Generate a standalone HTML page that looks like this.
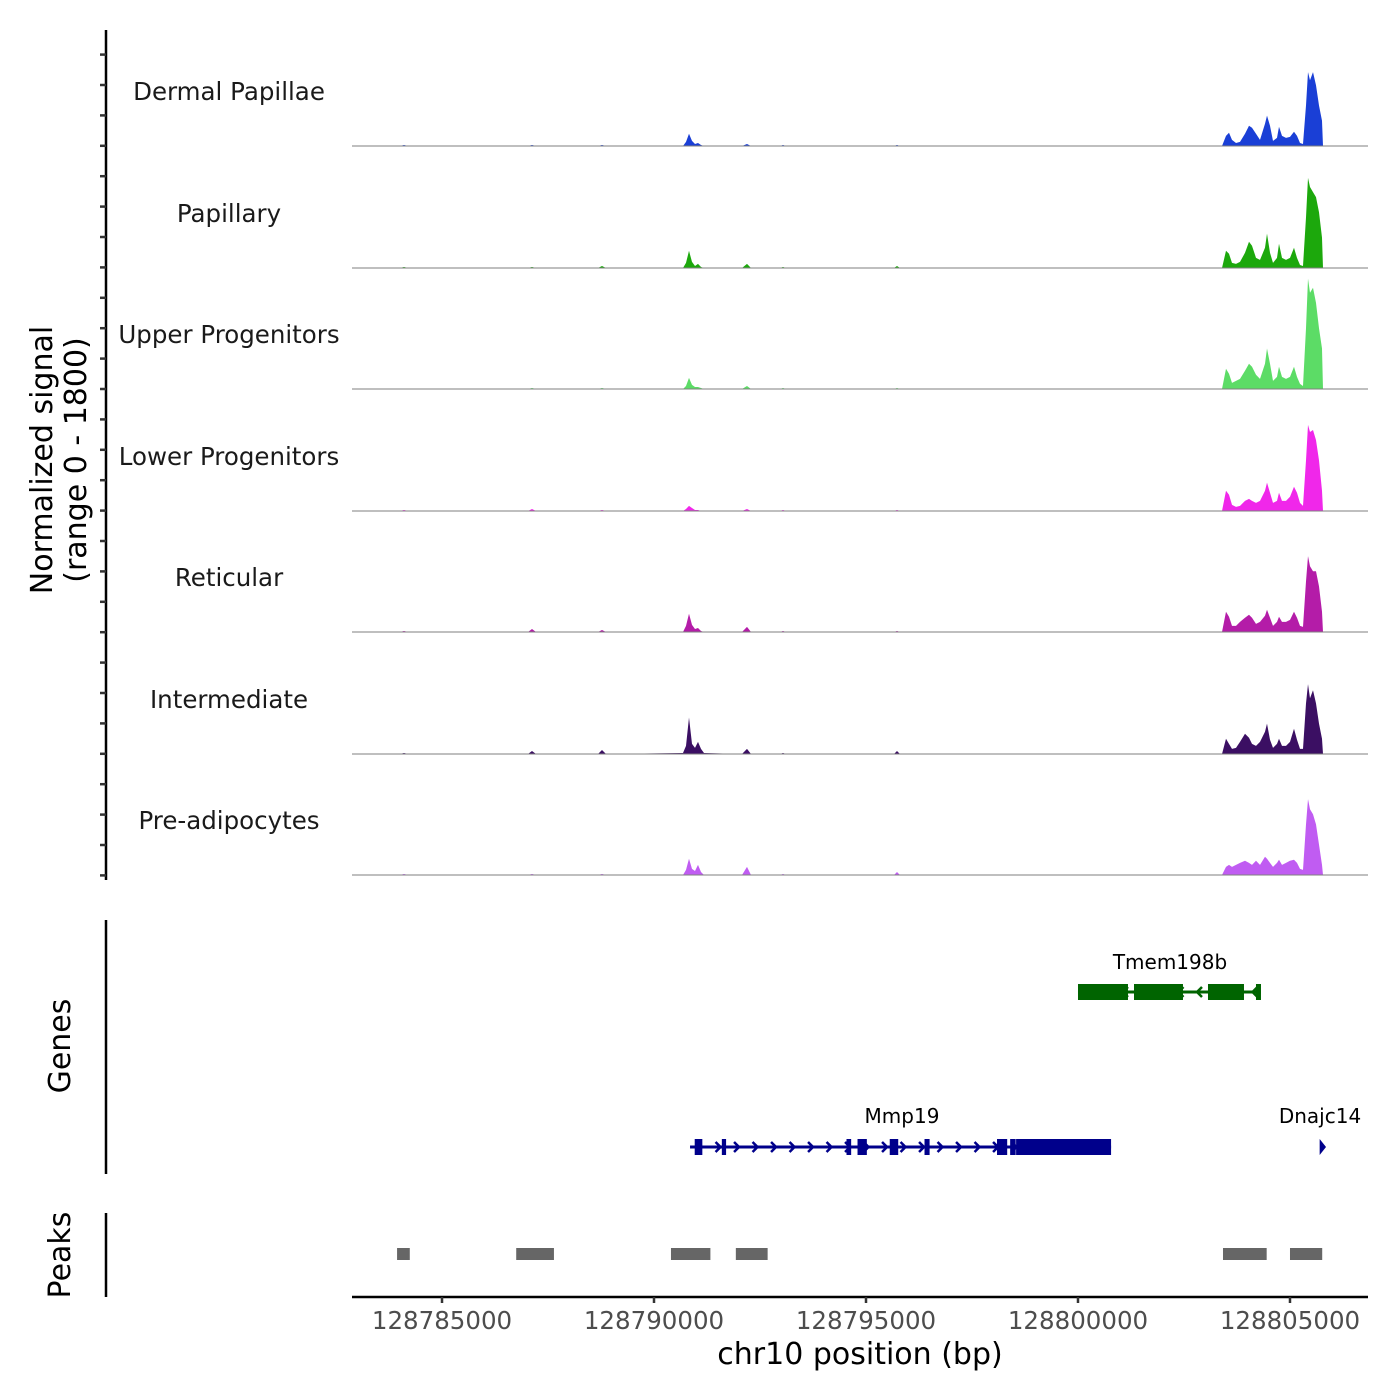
<!DOCTYPE html>
<html><head><meta charset="utf-8"><style>
body{margin:0;background:#fff}
svg{display:block;font-family:"DejaVu Sans","Liberation Sans",sans-serif}
</style></head><body>
<svg id="chart" width="1400" height="1400" viewBox="0 0 1400 1400" xmlns="http://www.w3.org/2000/svg">
<rect width="1400" height="1400" fill="#fff"/>
<g id="tracks"></g>
<g id="yaxis"></g>
<text transform="translate(52,460) rotate(-90)" text-anchor="middle" font-size="30" fill="#000">Normalized signal</text>
<text transform="translate(86,460) rotate(-90)" text-anchor="middle" font-size="30" fill="#000">(range 0 - 1800)</text>
<line x1="106" y1="920" x2="106" y2="1174" stroke="#000" stroke-width="2.5"/>
<text transform="translate(70,1046) rotate(-90)" text-anchor="middle" font-size="30">Genes</text>
<line x1="106" y1="1213" x2="106" y2="1297" stroke="#000" stroke-width="2.5"/>
<text transform="translate(70,1255) rotate(-90)" text-anchor="middle" font-size="30">Peaks</text>
<g id="genes"></g>
<g id="peaks"></g>
<g id="xaxis"></g>
<text x="860" y="1364" text-anchor="middle" font-size="30">chr10 position (bp)</text>
</svg>
<script>
const positions=[128782877,128784009,128784104,128784198,128787028,128787123,128787217,128788679,128788774,128788868,128790684,128790755,128790825,128790896,128790967,128791038,128791108,128791179,128792075,128792193,128792288,128792972,128793042,128793113,128795660,128795731,128795802,128802877,128803396,128803491,128803561,128803632,128803726,128803821,128803939,128804033,128804104,128804198,128804292,128804410,128804458,128804528,128804599,128804693,128804741,128804811,128804906,128805000,128805094,128805165,128805236,128805307,128805377,128805424,128805472,128805542,128805613,128805684,128805755,128805778,128806840];
const trackNames=["Dermal Papillae","Papillary","Upper Progenitors","Lower Progenitors","Reticular","Intermediate","Pre-adipocytes"];
const trackColors=["#1a3fd6","#1ca80c","#5cdc66","#f027ea","#b41ca8","#3b0f63","#c05cf2"];
const dermalValues=[0,0,15,0,0,15,0,0,15,0,0,60,180,75,30,45,15,0,0,30,0,0,15,0,0,15,0,0,0,150,195,90,45,60,180,300,270,180,90,330,450,300,75,120,285,150,120,135,210,150,45,30,600,1095,975,1095,900,600,375,0,0];
const papillaryValues=[0,0,15,0,0,15,0,0,30,0,0,75,255,90,30,60,15,0,0,60,0,0,15,0,0,30,0,0,0,255,210,75,60,90,225,390,330,150,120,300,510,225,75,150,360,150,120,150,300,150,45,30,750,1335,1200,1125,1050,825,450,0,0];
const upperValues=[0,0,0,0,0,15,0,0,15,0,0,45,165,60,30,30,15,0,0,45,0,0,15,0,0,15,0,0,0,300,225,90,120,150,270,375,330,210,150,375,600,375,120,180,330,180,150,180,330,180,75,45,900,1635,1425,1500,1275,900,600,0,0];
const lowerValues=[0,0,15,0,0,30,0,0,15,0,0,30,75,45,15,15,0,0,0,30,0,0,15,0,0,15,0,0,0,300,240,90,60,75,150,180,150,120,150,300,420,270,120,150,270,150,150,210,360,270,120,75,750,1275,1170,1200,1050,750,300,0,0];
const reticularValues=[0,0,15,0,0,45,0,0,30,0,0,90,270,105,45,60,15,0,0,75,0,0,15,0,0,15,0,0,0,300,225,90,90,150,210,255,210,120,150,240,330,210,90,150,225,150,150,180,300,210,90,75,750,1125,975,900,900,675,300,0,0];
const intermediateValues=[0,0,15,0,0,45,0,0,60,0,15,120,540,150,90,180,75,15,0,75,0,0,15,0,0,45,0,0,0,225,150,75,90,180,300,240,150,120,180,330,450,210,90,150,225,120,120,180,375,210,75,75,750,1035,825,945,750,450,225,0,0];
const preadipoValues=[0,0,15,0,0,15,0,0,15,0,0,75,240,90,60,150,45,0,0,120,0,0,15,0,0,45,0,0,0,120,150,120,150,180,210,180,150,210,150,270,240,180,120,180,225,150,180,210,225,180,90,75,750,1125,975,900,750,450,150,0,0];
const allValues=[dermalValues,papillaryValues,upperValues,lowerValues,reticularValues,intermediateValues,preadipoValues];
const xTicks=[128785000,128790000,128795000,128800000,128805000];
const peakStarts=[128783940,128786750,128790400,128791930,128803420,128805000];
const peakEnds=[128784240,128787640,128791330,128792680,128804450,128805760];
const geneNames=["Tmem198b","Mmp19","Dnajc14"];
const tmemExonStarts=[128800000,128801321,128803066,128804198];
const tmemExonEnds=[128801179,128802476,128803915,128804316];
const mmpExonStarts=[128790960,128791600,128794540,128794800,128795560,128796380,128798090,128798400,128798540];
const mmpExonEnds=[128791140,128791700,128794650,128795020,128795760,128796500,128798330,128798530,128800780];

const NS="http://www.w3.org/2000/svg";
const X0=352,X1=1368,D0=128782877,D1=128806840;
function xs(bp){return X0+(bp-D0)/(D1-D0)*(X1-X0);}
const baselines=[146,268,389,511,632,754,875];
const trackH=121.5;
function ys(v,i){return baselines[i]-v/1800*trackH;}
function mk(tag,attrs,parent){const e=document.createElementNS(NS,tag);for(const k in attrs)e.setAttribute(k,attrs[k]);parent.appendChild(e);return e;}
const tracks=document.getElementById('tracks');
allValues.forEach((vals,i)=>{
  let d="M"+xs(positions[0])+","+baselines[i];
  vals.forEach((v,j)=>{d+=" L"+xs(positions[j]).toFixed(1)+","+ys(v,i).toFixed(1);});
  d+=" L"+xs(positions[positions.length-1])+","+baselines[i]+"Z";
  const p=mk('path',{d:d,fill:trackColors[i]},tracks);
  
  
  const l=mk('line',{x1:X0,x2:X1,y1:baselines[i],y2:baselines[i],stroke:'#7f7f7f','stroke-width':1},tracks);
  
  
  const t=mk('text',{x:229,y:baselines[i]-46,'text-anchor':'middle','font-size':24.5,fill:'#1a1a1a'},tracks);
  t.textContent=trackNames[i];
  
  
});
const ya=document.getElementById('yaxis');
const yl=mk('line',{x1:106,x2:106,y1:30,y2:880,stroke:'#000','stroke-width':2.5},ya);


for(let k=0;k<28;k++){const y=54.6+k*30.4;const tk=mk('line',{x1:100,x2:106,y1:y,y2:y,stroke:'#333','stroke-width':2.5},ya);

}
const g=document.getElementById('genes');
function gene(starts,ends,y,color,lineStart,lineEnd,dir,name){
  const ln=mk('line',{x1:xs(lineStart),x2:xs(lineEnd),y1:y,y2:y,stroke:color,'stroke-width':3},g);
  
  
  for(let x=xs(lineStart)+10;x<xs(lineEnd)-6;x+=18.5){
    const a=mk('path',{d:dir>0?`M${x-3},${y-5} L${x+2},${y} L${x-3},${y+5}`:`M${x+3},${y-5} L${x-2},${y} L${x+3},${y+5}`,stroke:color,'stroke-width':2.5,fill:'none'},g);
    
    
  }
  starts.forEach((s,j)=>{const r=mk('rect',{x:xs(s),y:y-8,width:Math.max(3,xs(ends[j])-xs(s)),height:16,fill:color},g);
  
  });
}
gene(tmemExonStarts,tmemExonEnds,992,'#006400',128800000,128804316,-1,'tmem198b');
gene(mmpExonStarts,mmpExonEnds,1147,'#00008b',128790850,128800780,1,'mmp19');
const dn=mk('path',{d:`M${xs(128805700)},1139 L${xs(128805850)},1147 L${xs(128805700)},1155Z`,fill:'#00008b'},g);


[[geneNames[0],1170,969],[geneNames[1],902,1123],[geneNames[2],1320,1123]].forEach(a=>{
  const t=mk('text',{x:a[1],y:a[2],'text-anchor':'middle','font-size':20,fill:'#000'},g);t.textContent=a[0];
  
  
});
const pk=document.getElementById('peaks');
peakStarts.forEach((s,j)=>{const r=mk('rect',{x:xs(s),y:1248,width:xs(peakEnds[j])-xs(s),height:12,fill:'#666'},pk);

});
const xa=document.getElementById('xaxis');
const xl=mk('line',{x1:X0,x2:X1,y1:1297,y2:1297,stroke:'#000','stroke-width':2.5},xa);


xTicks.forEach(v=>{const x=xs(v);
  const tk=mk('line',{x1:x,x2:x,y1:1297,y2:1303,stroke:'#333','stroke-width':2.5},xa);
  
  
  const t=mk('text',{x:x,y:1329,'text-anchor':'middle','font-size':24.5,fill:'#4d4d4d'},xa);t.textContent=v;
  
  
});
</script>
</body></html>
